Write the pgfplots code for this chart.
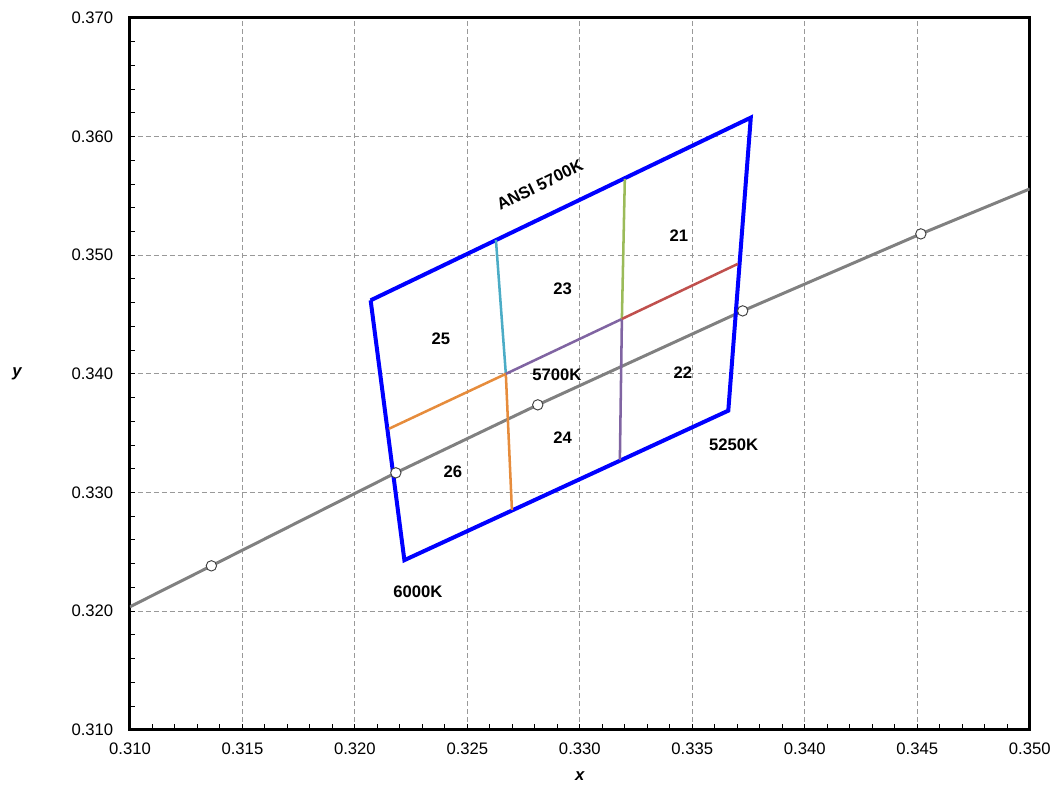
\documentclass[border=0pt]{standalone}
\usepackage{pgfplots}
\pgfplotsset{compat=1.18}
\usepackage{fontspec}
\setmainfont{Liberation Sans}
\usetikzlibrary{calc}

\definecolor{ansiblue}{RGB}{0,0,255}
\definecolor{locus}{RGB}{128,128,128}
\definecolor{xlteal}{RGB}{75,172,198}
\definecolor{xlorange}{RGB}{230,140,60}
\definecolor{xlpurple}{RGB}{128,100,162}
\definecolor{xlgreen}{RGB}{155,187,89}
\definecolor{xlred}{RGB}{192,80,77}

\newcommand{\lblfont}{\fontsize{12.5pt}{15pt}\selectfont}

\begin{document}
\begin{tikzpicture}
\begin{axis}[
    scale only axis,
    width=675pt, height=534pt,
    xmin=0.310, xmax=0.350,
    ymin=0.310, ymax=0.370,
    xtick={0.310,0.315,0.320,0.325,0.330,0.335,0.340,0.345,0.350},
    ytick={0.310,0.320,0.330,0.340,0.350,0.360,0.370},
    minor x tick num=4,
    minor y tick num=4,
    scaled ticks=false,
    xticklabel style={yshift=-6.5pt, /pgf/number format/.cd, fixed, fixed zerofill, precision=3, assume math mode=true},
    yticklabel style={xshift=-9pt, /pgf/number format/.cd, fixed, fixed zerofill, precision=3, assume math mode=true},
    tick label style={font=\lblfont},
    xmajorgrids=true, ymajorgrids=true,
    major grid style={gray!80, line width=0.75pt, dash pattern=on 3.5pt off 2.5pt},
    axis line style={line width=2.25pt},
    tick style={black, line width=0.75pt},
    tick align=inside,
    major tick length=4pt, minor tick length=4pt,
    xtick pos=bottom, ytick pos=left,
    xlabel={\bfseries\itshape x},
    ylabel={\bfseries\itshape y},
    every axis x label/.style={at={(rel axis cs:0.5,0)}, anchor=center, yshift=-34.5pt, font=\lblfont},
    every axis y label/.style={at={(rel axis cs:0,0.5)}, anchor=center, xshift=-84.75pt, font=\lblfont},
]

% Planckian locus
\addplot[locus, line width=2.25pt] coordinates {
    (0.3100,0.32037) (0.31362,0.32382) (0.32182,0.33166) (0.32813,0.33739)
    (0.33724,0.34531) (0.34516,0.35180) (0.3500,0.35559)
};

% ANSI 5700K quadrangle
\addplot[ansiblue, line width=3pt, line join=miter] coordinates {
    (0.3207,0.3462) (0.3376,0.3616) (0.3366,0.3369) (0.3222,0.3243) (0.3207,0.3462)
};

% sub-bin lines
\addplot[xlteal, line width=1.9pt] coordinates {(0.32627,0.35129) (0.32671,0.34000)};
\addplot[xlorange, line width=1.9pt] coordinates {(0.32151,0.33537) (0.32671,0.34000) (0.32698,0.32854)};
\addplot[xlpurple, line width=1.9pt] coordinates {(0.32671,0.34000) (0.33187,0.34463) (0.33178,0.33275)};
\addplot[xlgreen, line width=1.9pt] coordinates {(0.33187,0.34463) (0.33200,0.35643)};
\addplot[xlred, line width=1.9pt] coordinates {(0.33187,0.34463) (0.33702,0.34927)};

% locus points
\addplot[only marks, mark=*, mark size=3.9pt, mark options={fill=white, draw=black!75, line width=0.7pt}] coordinates {
    (0.31362,0.32382) (0.32182,0.33166) (0.32813,0.33739) (0.33724,0.34531) (0.34516,0.35180)
};

\begin{scope}[every node/.style={font=\lblfont\bfseries}]
\node at (axis cs:0.33440,0.35163) {21};
\node at (axis cs:0.32924,0.34716) {23};
\node at (axis cs:0.32382,0.34295) {25};
\node at (axis cs:0.33458,0.34008) {22};
\node at (axis cs:0.32898,0.33992) {5700K};
\node at (axis cs:0.32924,0.33461) {24};
\node at (axis cs:0.32436,0.33174) {26};
\node at (axis cs:0.33684,0.33402) {5250K};
\node at (axis cs:0.32280,0.32163) {6000K};
\node[rotate=26] at (axis cs:0.32822,0.35593) {ANSI 5700K};
\end{scope}
\end{axis}
\path ($(current axis.south west)+(-97.5pt,-42.75pt)$) rectangle ($(current axis.north east)+(18.75pt,13.5pt)$);
\end{tikzpicture}
\end{document}
